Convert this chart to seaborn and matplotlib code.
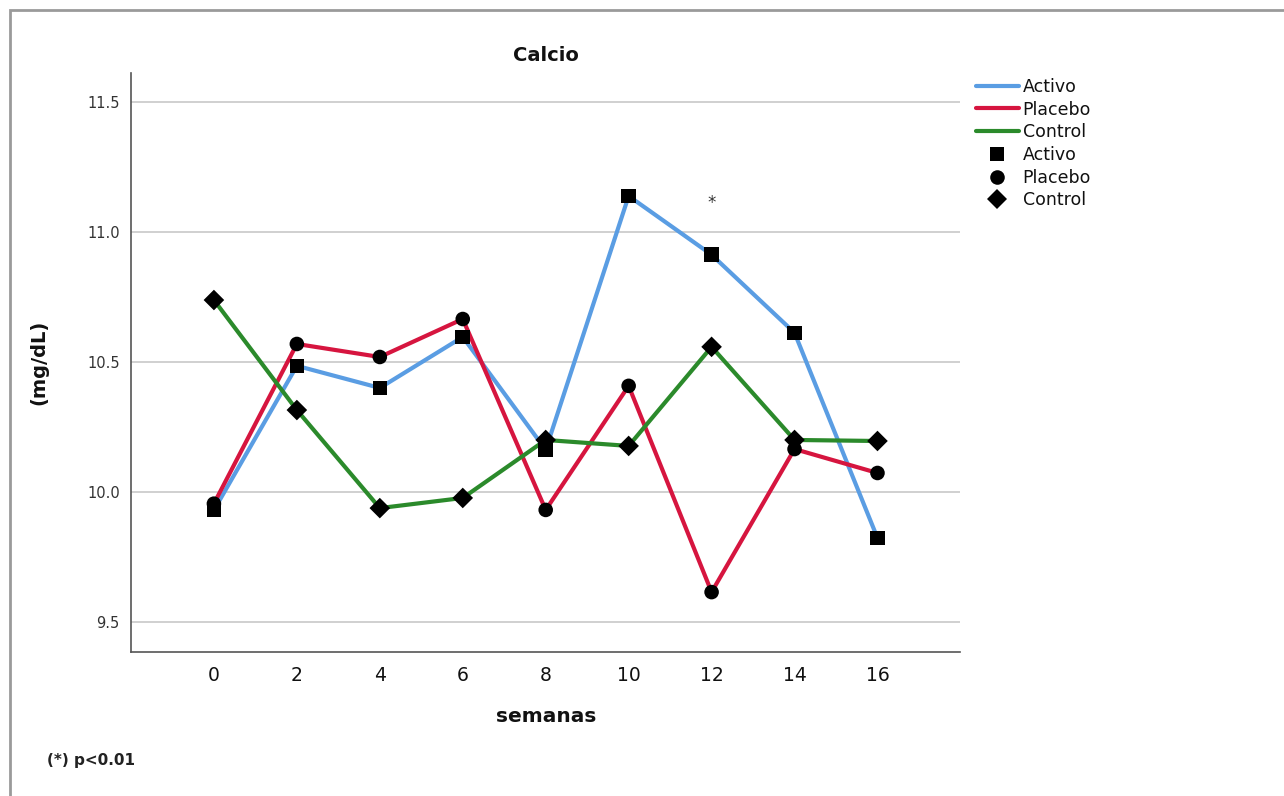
import pandas as pd
import numpy as np
import matplotlib.pyplot as plt
import seaborn as sns
from matplotlib.patches import Rectangle

# Calcium values (mg/dL)
semanas = [0, 2, 4, 6, 8, 10, 12, 14, 16]
activo = [9.93, 10.485, 10.40, 10.596, 10.162, 11.138, 10.912, 10.612, 9.823]
placebo = [9.955, 10.569, 10.519, 10.665, 9.931, 10.408, 9.615, 10.165, 10.073]
control = [10.738, 10.315, 9.938, 9.977, 10.20, 10.177, 10.558, 10.20, 10.196]
grupos = ['Activo', 'Placebo', 'Control']
y_ticks = [9.5, 10.0, 10.5, 11.0, 11.5]

data = pd.DataFrame({
    'semanas': semanas * 3,
    'valor': activo + placebo + control,
    'grupo': np.repeat(grupos, len(semanas)),
})

sns.set_style('white')
plt.rcParams['font.family'] = ['DejaVu Sans']
plt.rcParams['text.color'] = '#111111'

fig = plt.figure(figsize=(12.84, 7.96), dpi=100)
ax = fig.add_axes([0.102, 0.181, 0.646, 0.727])

palette = {'Activo': '#5a9de3', 'Placebo': '#d6153f', 'Control': '#2b8a2b'}
markers = {'Activo': 's', 'Placebo': 'o', 'Control': 'D'}

sns.lineplot(data=data, x='semanas', y='valor', hue='grupo', hue_order=grupos,
             palette=palette, linewidth=3, ax=ax)
sns.scatterplot(data=data, x='semanas', y='valor', style='grupo', style_order=grupos,
                markers=markers, color='black', s=110, edgecolor='black',
                linewidth=0, zorder=5, ax=ax)

ax.set_xlim(-2, 18)
ax.set_ylim(9.385, 11.61)
ax.set_xticks(semanas)
ax.set_yticks(y_ticks)
ax.set_yticklabels([f'{v:.1f}' for v in y_ticks], fontsize=10.5, color='#333333')
ax.tick_params(axis='x', labelsize=13.5, labelcolor='#111111', length=0, pad=10)
ax.tick_params(axis='y', length=0, pad=8)
ax.yaxis.grid(True, color='#c8c8c8', linewidth=1.2)
ax.xaxis.grid(False)
for side in ['top', 'right']:
    ax.spines[side].set_visible(False)
for side in ['left', 'bottom']:
    ax.spines[side].set_color('#555555')
    ax.spines[side].set_linewidth(1.2)

ax.set_title('Calcio', fontsize=14, fontweight='bold', pad=9, color='#111111')
ax.set_xlabel('semanas', fontsize=14.5, fontweight='bold', labelpad=16, color='#111111')
ax.set_ylabel('(mg/dL)', fontsize=14, fontweight='bold', labelpad=28, color='#111111')

ax.text(12, 11.075, '*', ha='center', va='bottom', fontsize=12, color='#333333')

handles, labels = ax.get_legend_handles_labels()
ax.legend(handles, labels, loc='upper left', bbox_to_anchor=(1.01, 1.004),
          frameon=False, fontsize=12.5, handlelength=2.5, handletextpad=0.2,
          labelspacing=0.27, borderaxespad=0, labelcolor='#111111')

fig.text(47 / 1284, 1 - 760 / 796, '(*) p<0.01', fontsize=11, fontweight='bold',
         va='center', color='#222222')

# gray window frame
fig.patches.append(Rectangle((10 / 1284, -0.01), 1.02, 1 - 10 / 796 + 0.01,
                             transform=fig.transFigure, fill=False,
                             edgecolor='#9a9a9a', linewidth=2))

fig.savefig('out.png', dpi=100)
